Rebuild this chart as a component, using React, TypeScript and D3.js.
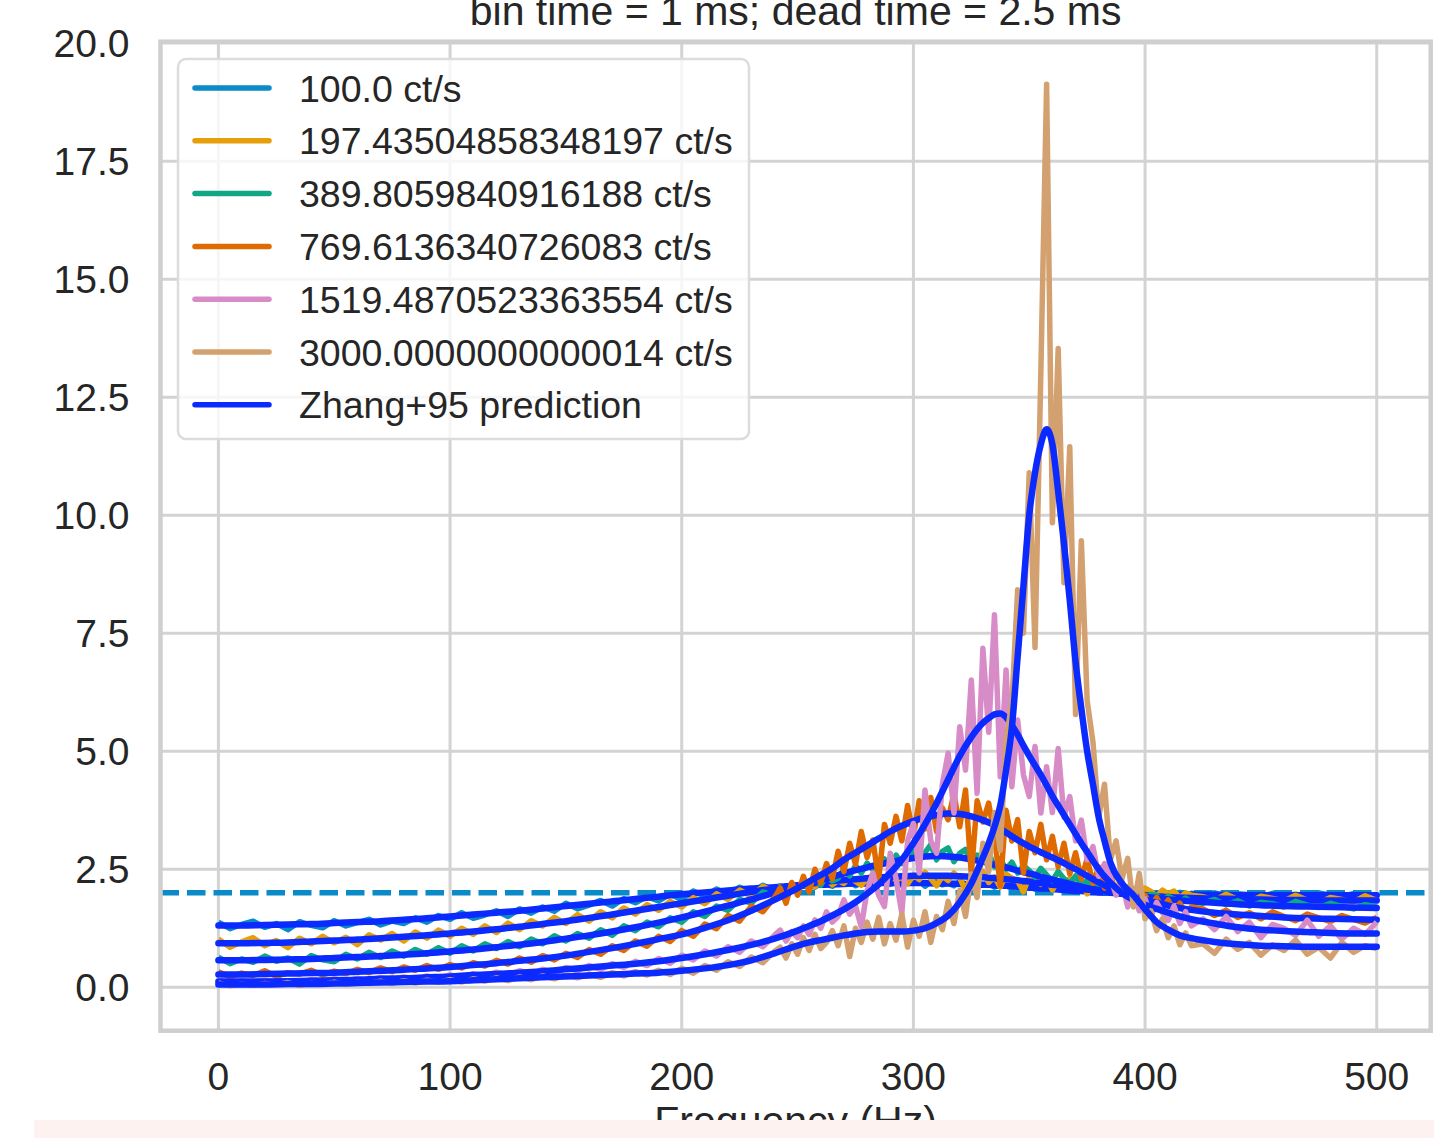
import React from 'react';
import * as d3 from 'd3';

const W = 1434;
const H = 1138;

const titleText = 'bin time = 1 ms; dead time = 2.5 ms';
const xLabelText = 'Frequency (Hz)';
const xTicks = [0, 100, 200, 300, 400, 500];
const yTicks = [0, 2.5, 5, 7.5, 10, 12.5, 15, 17.5, 20];

const seriesLabels = [
  '100.0 ct/s',
  '197.43504858348197 ct/s',
  '389.8059840916188 ct/s',
  '769.6136340726083 ct/s',
  '1519.4870523363554 ct/s',
  '3000.0000000000014 ct/s',
];
const modelLabel = 'Zhang+95 prediction';
const seriesColors = ['#0a8ac6', '#e69f0a', '#10a884', '#df6a00', '#d78bc7', '#d3a070'];
const modelColor = '#0a2aff';
const refLevel = 2.0;

// frequency grid of the measured spectra (Hz)
const dataFreq = [
  ...d3.range(0, 241, 5),
  ...d3.range(242.5, 420.1, 2.5),
  ...d3.range(425, 500.1, 5),
];
// frequency grid of the model curves (Hz)
const modelFreq = [
  ...d3.range(0, 251, 10),
  ...d3.range(255, 331, 5),
  ...d3.range(332.5, 385.1, 2.5),
  ...d3.range(390, 421, 5),
  ...d3.range(430, 501, 10),
];

const pds100 = [
  1.38, 1.24, 1.33, 1.40, 1.27, 1.35, 1.22, 1.39, 1.31, 1.26,
  1.41, 1.30, 1.37, 1.44, 1.32, 1.40, 1.35, 1.47, 1.38, 1.52,
  1.44, 1.58, 1.46, 1.53, 1.62, 1.50, 1.66, 1.57, 1.70, 1.61,
  1.78, 1.66, 1.74, 1.84, 1.72, 1.88, 1.79, 1.92, 1.83, 1.97,
  1.86, 2.04, 1.93, 2.08, 1.97, 2.12, 2.01, 2.16, 2.06,
  2.15, 2.10, 2.19, 2.13, 2.20, 2.16, 2.12, 2.23, 2.18, 2.14,
  2.24, 2.19, 2.27, 2.15, 2.21, 2.26, 2.17, 2.23, 2.29, 2.18,
  2.22, 2.16, 2.27, 2.20, 2.25, 2.14, 2.23, 2.28, 2.17, 2.21,
  2.15, 2.24, 2.19, 2.13, 2.22, 2.17, 2.20, 2.12, 2.19, 2.15,
  2.10, 2.18, 2.13, 2.16, 2.08, 2.14, 2.11, 2.06, 2.15, 2.09,
  2.05, 2.12, 2.07, 2.02, 2.10, 2.04, 2.00, 2.08, 2.03, 1.98,
  2.06, 2.01, 1.97, 2.04, 1.99, 1.95, 2.02, 1.98, 1.94, 2.01,
  1.96, 1.99,
  1.95, 2.00, 1.93, 1.98, 1.96, 1.91, 1.99, 1.94, 1.97, 1.92,
  2.00, 1.95, 1.93, 1.98, 1.94, 1.96,
];
const pds197 = [
  1.02, 0.85, 0.96, 1.05, 0.88, 0.99, 0.84, 1.04, 0.92, 1.08,
  0.94, 1.06, 0.90, 1.11, 1.00, 1.14, 0.98, 1.17, 1.04, 1.21,
  1.08, 1.25, 1.12, 1.30, 1.16, 1.36, 1.22, 1.41, 1.30, 1.48,
  1.35, 1.54, 1.40, 1.60, 1.47, 1.68, 1.55, 1.75, 1.63, 1.82,
  1.70, 1.90, 1.77, 1.98, 1.86, 2.06, 1.93, 2.14, 2.02,
  2.14, 2.06, 2.20, 2.11, 2.18, 2.25, 2.13, 2.22, 2.30, 2.17,
  2.26, 2.20, 2.33, 2.24, 2.16, 2.30, 2.38, 2.22, 2.29, 2.41,
  2.27, 2.33, 2.19, 2.37, 2.28, 2.44, 2.30, 2.15, 2.36, 2.26,
  2.42, 2.32, 2.05, 2.38, 2.29, 2.45, 2.22, 2.34, 2.12, 2.40,
  2.31, 2.25, 2.02, 2.35, 2.27, 2.18, 2.33, 2.06, 2.26, 2.20,
  2.30, 2.13, 2.24, 1.98, 2.20, 2.11, 2.25, 2.07, 2.16, 2.02,
  2.13, 2.08, 1.96, 2.10, 2.03, 1.93, 2.06, 1.98, 2.04, 1.90,
  2.00, 1.95,
  1.92, 1.84, 1.97, 1.86, 1.80, 1.93, 1.88, 1.83, 1.95, 1.85,
  1.79, 1.90, 1.86, 1.81, 1.94, 1.84,
];
const pds390 = [
  0.64, 0.50, 0.60, 0.53, 0.66, 0.55, 0.62, 0.49, 0.67, 0.58,
  0.54, 0.70, 0.60, 0.74, 0.63, 0.77, 0.66, 0.80, 0.70, 0.84,
  0.72, 0.88, 0.77, 0.92, 0.82, 0.97, 0.86, 1.02, 0.92, 1.09,
  0.98, 1.14, 1.04, 1.22, 1.10, 1.30, 1.20, 1.38, 1.28, 1.47,
  1.38, 1.60, 1.50, 1.72, 1.63, 1.86, 1.78, 2.02, 1.94,
  2.10, 1.96, 2.18, 2.05, 2.24, 2.12, 2.30, 2.16, 2.38, 2.25,
  2.31, 2.50, 2.36, 2.58, 2.42, 2.63, 2.49, 2.56, 2.72, 2.55,
  2.80, 2.62, 2.76, 2.90, 2.68, 2.85, 3.02, 2.70, 2.88, 2.95,
  2.66, 2.84, 2.92, 2.62, 2.80, 2.68, 2.86, 2.55, 2.72, 2.50,
  2.65, 2.42, 2.58, 2.47, 2.33, 2.52, 2.38, 2.26, 2.45, 2.30,
  2.20, 2.36, 2.12, 2.27, 2.08, 2.18, 2.02, 2.14, 2.06, 1.98,
  2.04, 1.92, 2.01, 1.88, 1.97, 1.95, 1.84, 1.93, 1.87, 1.80,
  1.89, 1.81,
  1.78, 1.86, 1.75, 1.83, 1.72, 1.80, 1.77, 1.70, 1.82, 1.74,
  1.69, 1.78, 1.71, 1.66, 1.75, 1.70,
];
const pds770 = [
  0.33, 0.22, 0.30, 0.25, 0.35, 0.23, 0.31, 0.28, 0.36, 0.26,
  0.34, 0.29, 0.38, 0.31, 0.41, 0.33, 0.43, 0.36, 0.46, 0.38,
  0.48, 0.41, 0.52, 0.45, 0.57, 0.49, 0.62, 0.53, 0.67, 0.58,
  0.72, 0.63, 0.80, 0.70, 0.88, 0.78, 0.98, 0.87, 1.08, 0.97,
  1.20, 1.08, 1.34, 1.24, 1.52, 1.40, 1.72, 1.60, 1.90,
  2.10, 1.78, 2.22, 1.95, 2.35, 2.02, 2.50, 2.21, 2.62, 2.30,
  2.88, 2.45, 3.05, 2.60, 3.30, 2.75, 3.12, 2.28, 3.45, 3.05,
  3.62, 3.10, 3.85, 3.20, 3.95, 3.35, 4.02, 3.30, 3.80, 3.55,
  4.10, 3.40, 4.18, 2.40, 3.95, 3.50, 3.90, 3.20, 2.15, 3.75,
  3.10, 3.55, 2.42, 3.30, 2.85, 3.45, 2.70, 3.20, 2.55, 3.05,
  2.40, 2.85, 2.30, 2.72, 2.20, 2.55, 2.10, 2.40, 1.98, 2.20,
  1.90, 2.08, 1.80, 1.95, 1.72, 1.90, 1.68, 1.85, 1.62, 1.78,
  1.58, 1.70,
  1.66, 1.52, 1.63, 1.48, 1.58, 1.45, 1.60, 1.50, 1.41, 1.55,
  1.47, 1.39, 1.52, 1.44, 1.36, 1.48,
];
const pds1519 = [
  0.15, 0.09, 0.14, 0.10, 0.16, 0.11, 0.14, 0.09, 0.17, 0.12,
  0.18, 0.13, 0.19, 0.14, 0.21, 0.16, 0.22, 0.17, 0.24, 0.19,
  0.26, 0.21, 0.29, 0.23, 0.32, 0.26, 0.35, 0.28, 0.38, 0.31,
  0.42, 0.35, 0.46, 0.38, 0.50, 0.42, 0.55, 0.46, 0.61, 0.51,
  0.68, 0.58, 0.77, 0.66, 0.86, 0.74, 0.98, 0.86, 1.10,
  1.21, 0.98, 1.18, 1.05, 1.30, 1.12, 1.43, 1.25, 1.60, 1.38,
  1.50, 1.85, 1.55, 1.72, 1.28, 2.05, 2.42, 1.95, 1.71, 2.84,
  2.30, 1.57, 3.10, 3.47, 2.42, 4.18, 3.10, 2.84, 4.30, 4.96,
  3.69, 5.52, 4.60, 6.51, 4.11, 7.18, 5.40, 7.89, 4.46, 6.72,
  4.25, 5.66, 4.50, 4.04, 5.10, 3.69, 4.67, 3.70, 5.06, 3.60,
  4.04, 3.10, 3.54, 2.70, 2.98, 2.35, 2.62, 2.34, 1.95, 2.25,
  1.70, 1.98, 1.62, 1.88, 1.50, 1.80, 1.58, 1.42, 1.72, 1.35,
  1.60, 1.30,
  1.45, 1.22, 1.50, 1.18, 1.38, 1.05, 1.33, 1.25, 1.10, 1.42,
  1.08, 1.30, 1.02, 1.25, 1.12, 1.38,
];
const pds3000 = [
  0.09, 0.03, 0.07, 0.04, 0.08, 0.05, 0.10, 0.04, 0.08, 0.06,
  0.11, 0.06, 0.10, 0.08, 0.13, 0.08, 0.14, 0.09, 0.15, 0.11,
  0.16, 0.11, 0.18, 0.13, 0.20, 0.14, 0.22, 0.16, 0.24, 0.18,
  0.26, 0.20, 0.28, 0.21, 0.31, 0.24, 0.33, 0.26, 0.36, 0.27,
  0.40, 0.30, 0.46, 0.36, 0.54, 0.44, 0.64, 0.52, 0.76,
  0.85, 0.62, 0.92, 0.70, 1.05, 0.78, 1.12, 0.82, 0.95, 1.20,
  0.88, 1.30, 0.65, 1.25, 0.95, 1.38, 1.02, 1.48, 0.92, 1.35,
  1.00, 1.55, 0.85, 1.42, 1.08, 1.60, 0.95, 1.50, 1.22, 1.82,
  1.35, 2.05, 1.50, 2.40, 1.90, 3.05, 2.45, 3.70, 2.90, 5.24,
  6.02, 8.42, 7.50, 10.90, 7.20, 13.00, 19.13, 9.84, 13.53, 8.57,
  11.45, 5.78, 9.46, 6.07, 5.20, 3.60, 4.30, 2.70, 3.10, 2.30,
  2.73, 1.70, 2.41, 1.45, 1.62, 1.20, 1.45, 1.05, 1.30, 0.90,
  1.15, 0.88,
  0.92, 0.72, 1.02, 0.80, 0.95, 0.68, 0.90, 0.78, 1.00, 0.70,
  0.85, 0.62, 0.95, 0.74, 0.88, 0.82,
];

const model100 = [
  1.31, 1.31, 1.32, 1.33, 1.34, 1.36, 1.38, 1.40, 1.43, 1.46, 1.50, 1.54, 1.58,
  1.62, 1.67, 1.72, 1.77, 1.82, 1.87, 1.92, 1.97, 2.01, 2.05, 2.09, 2.12, 2.15,
  2.16, 2.17, 2.18, 2.19, 2.20, 2.20, 2.21, 2.21, 2.21, 2.21, 2.21, 2.20, 2.20, 2.19, 2.18, 2.17,
  2.17, 2.16, 2.15, 2.15, 2.14, 2.13, 2.12, 2.11, 2.10, 2.09, 2.09, 2.08, 2.07, 2.06, 2.05, 2.04, 2.04, 2.03, 2.02, 2.01, 2.01, 2.00,
  1.99, 1.98, 1.98, 1.97, 1.97, 1.96, 1.96,
  1.96, 1.95, 1.95, 1.95, 1.95, 1.95, 1.95, 1.95,
];
const model197 = [
  0.93, 0.93, 0.94, 0.95, 0.97, 0.99, 1.01, 1.04, 1.07, 1.10, 1.14, 1.18, 1.23,
  1.28, 1.34, 1.40, 1.47, 1.54, 1.62, 1.70, 1.78, 1.86, 1.94, 2.02, 2.09, 2.16,
  2.19, 2.22, 2.25, 2.27, 2.29, 2.31, 2.33, 2.34, 2.35, 2.36, 2.36, 2.36, 2.36, 2.35, 2.34, 2.33,
  2.32, 2.31, 2.30, 2.29, 2.28, 2.27, 2.25, 2.24, 2.22, 2.21, 2.19, 2.17, 2.16, 2.14, 2.12, 2.11, 2.09, 2.07, 2.06, 2.04, 2.03, 2.01,
  1.99, 1.97, 1.95, 1.93, 1.91, 1.90, 1.89,
  1.88, 1.87, 1.86, 1.85, 1.85, 1.84, 1.84, 1.84,
];
const model390 = [
  0.57, 0.57, 0.58, 0.59, 0.60, 0.62, 0.64, 0.66, 0.69, 0.72, 0.76, 0.80, 0.85,
  0.90, 0.96, 1.03, 1.10, 1.18, 1.27, 1.37, 1.48, 1.60, 1.73, 1.86, 2.00, 2.13,
  2.20, 2.27, 2.34, 2.41, 2.48, 2.54, 2.60, 2.65, 2.70, 2.74, 2.77, 2.78, 2.77, 2.75, 2.71, 2.66,
  2.63, 2.60, 2.57, 2.54, 2.51, 2.47, 2.44, 2.41, 2.38, 2.34, 2.31, 2.28, 2.25, 2.22, 2.19, 2.16, 2.13, 2.10, 2.08, 2.06, 2.04, 2.02,
  1.98, 1.95, 1.92, 1.89, 1.86, 1.84, 1.82,
  1.79, 1.76, 1.74, 1.72, 1.71, 1.70, 1.69, 1.68,
];
const model770 = [
  0.27, 0.27, 0.28, 0.29, 0.30, 0.31, 0.33, 0.35, 0.37, 0.40, 0.43, 0.47, 0.51,
  0.56, 0.61, 0.67, 0.75, 0.83, 0.92, 1.02, 1.12, 1.26, 1.42, 1.62, 1.85, 2.10,
  2.24, 2.38, 2.52, 2.70, 2.85, 3.00, 3.15, 3.30, 3.42, 3.52, 3.60, 3.65, 3.68, 3.67, 3.62, 3.54,
  3.49, 3.43, 3.36, 3.28, 3.20, 3.12, 3.05, 2.98, 2.92, 2.86, 2.80, 2.75, 2.69, 2.63, 2.56, 2.50, 2.43, 2.36, 2.29, 2.22, 2.16, 2.10,
  2.00, 1.92, 1.85, 1.79, 1.73, 1.68, 1.64,
  1.58, 1.54, 1.51, 1.48, 1.46, 1.45, 1.44, 1.43,
];
const model1519 = [
  0.12, 0.12, 0.12, 0.13, 0.14, 0.15, 0.16, 0.18, 0.19, 0.21, 0.23, 0.26, 0.28,
  0.31, 0.34, 0.38, 0.42, 0.46, 0.50, 0.55, 0.62, 0.70, 0.79, 0.90, 1.03, 1.20,
  1.30, 1.40, 1.52, 1.65, 1.80, 1.98, 2.18, 2.42, 2.70, 3.05, 3.45, 3.90, 4.40, 4.90, 5.30, 5.60,
  5.70, 5.78, 5.80, 5.72, 5.55, 5.35, 5.12, 4.90, 4.70, 4.50, 4.28, 4.05, 3.85, 3.65, 3.45, 3.25, 3.05, 2.87, 2.68, 2.50, 2.35, 2.22,
  2.00, 1.85, 1.75, 1.66, 1.58, 1.50, 1.44,
  1.35, 1.27, 1.22, 1.19, 1.17, 1.15, 1.14, 1.14,
];
const model3000 = [
  0.06, 0.06, 0.06, 0.07, 0.07, 0.08, 0.09, 0.10, 0.11, 0.12, 0.13, 0.15, 0.17,
  0.19, 0.21, 0.23, 0.25, 0.27, 0.29, 0.31, 0.35, 0.40, 0.47, 0.57, 0.72, 0.88,
  0.95, 1.00, 1.05, 1.10, 1.14, 1.17, 1.18, 1.18, 1.18, 1.20, 1.25, 1.36, 1.52, 1.80, 2.20, 2.75,
  3.05, 3.40, 3.85, 4.60, 5.50, 7.00, 8.50, 10.00, 10.90, 11.50, 11.82, 11.50, 10.50, 9.40, 8.20, 6.90, 5.90, 5.00, 4.30, 3.60, 3.10, 2.65,
  2.20, 1.95, 1.65, 1.38, 1.22, 1.10, 1.04,
  0.96, 0.91, 0.88, 0.87, 0.86, 0.86, 0.86, 0.86,
];

const dataSeries = [pds100, pds197, pds390, pds770, pds1519, pds3000];
const modelSeries = [model100, model197, model390, model770, model1519, model3000];

const FONT = "'Liberation Sans', Arial, Helvetica, sans-serif";
const TEXT = '#262626';

export default function App() {
  const plot = { left: 160.5, right: 1430.7, top: 41.7, bottom: 1030.7 };
  const x = d3.scaleLinear().domain([-25, 523.3]).range([plot.left, plot.right]);
  const y = d3.scaleLinear().domain([-0.92, 20.03]).range([plot.bottom, plot.top]);

  const dataLine = d3
    .line<number>()
    .x((_, i) => x(dataFreq[i]))
    .y((d) => y(d))
    .curve(d3.curveLinear);
  const modelLine = d3
    .line<number>()
    .x((_, i) => x(modelFreq[i]))
    .y((d) => y(d))
    .curve(d3.curveMonotoneX);

  const legend = { x: 178, y: 59, w: 571, h: 380, rowY0: 88, rowStep: 52.8 };
  const legendItems = [
    ...seriesLabels.map((l, i) => ({ label: l, color: seriesColors[i] })),
    { label: modelLabel, color: modelColor },
  ];

  return (
    <svg
      width={W}
      height={H}
      style={{ position: 'absolute', left: 0, top: 0, display: 'block' }}
      fontFamily={FONT}
    >
      <rect x={0} y={0} width={W} height={H} fill="#ffffff" />
      <defs>
        <clipPath id="plotClip">
          <rect x={plot.left} y={plot.top} width={plot.right - plot.left} height={plot.bottom - plot.top} />
        </clipPath>
      </defs>

      {/* grid */}
      <g stroke="#d3d3d3" strokeWidth={3}>
        {xTicks.map((t) => (
          <line key={'gx' + t} x1={x(t)} x2={x(t)} y1={plot.top} y2={plot.bottom} />
        ))}
        {yTicks.map((t) => (
          <line key={'gy' + t} x1={plot.left} x2={plot.right} y1={y(t)} y2={y(t)} />
        ))}
      </g>

      <g clipPath="url(#plotClip)">
        <line
          x1={plot.left}
          x2={plot.right}
          y1={y(refLevel)}
          y2={y(refLevel)}
          stroke={seriesColors[0]}
          strokeWidth={5.5}
          strokeDasharray="18.5 8"
        />
        {dataSeries.map((vals, i) => (
          <g key={'s' + i}>
            <path
              d={dataLine(vals) || ''}
              fill="none"
              stroke={seriesColors[i]}
              strokeWidth={5.5}
              strokeLinejoin="round"
            />
            <path
              d={modelLine(modelSeries[i]) || ''}
              fill="none"
              stroke={modelColor}
              strokeWidth={6.5}
              strokeLinejoin="round"
              strokeLinecap="round"
            />
          </g>
        ))}
      </g>

      {/* spines */}
      <rect
        x={plot.left}
        y={plot.top}
        width={plot.right - plot.left}
        height={plot.bottom - plot.top}
        fill="none"
        stroke="#cfcfcf"
        strokeWidth={4.5}
      />

      {/* tick labels */}
      <g fill={TEXT} fontSize={39}>
        {xTicks.map((t) => (
          <text key={'tx' + t} x={x(t)} y={1090} textAnchor="middle">
            {String(t)}
          </text>
        ))}
        {yTicks.map((t) => (
          <text key={'ty' + t} x={129.5} y={y(t) + 14} textAnchor="end">
            {t.toFixed(1)}
          </text>
        ))}
      </g>

      {/* legend */}
      <g>
        <rect
          x={legend.x}
          y={legend.y}
          width={legend.w}
          height={legend.h}
          rx={8}
          ry={8}
          fill="#ffffff"
          fillOpacity={0.8}
          stroke="#dcdcdc"
          strokeWidth={2.5}
        />
        {legendItems.map((it, i) => {
          const ly = legend.rowY0 + i * legend.rowStep;
          return (
            <g key={'lg' + i}>
              <line x1={195} x2={269} y1={ly} y2={ly} stroke={it.color} strokeWidth={5.5} strokeLinecap="round" />
              <text x={299} y={ly + 13.5} fontSize={37.5} fill={TEXT}>
                {it.label}
              </text>
            </g>
          );
        })}
      </g>

      {/* title and axis label */}
      <text x={(plot.left + plot.right) / 2} y={25} textAnchor="middle" fontSize={41} fill={TEXT}>
        {titleText}
      </text>
      <text x={(plot.left + plot.right) / 2} y={1135} textAnchor="middle" fontSize={41} fill={TEXT}>
        {xLabelText}
      </text>

      {/* pale strip along the bottom edge */}
      <rect x={34} y={1120} width={W - 34} height={H - 1120} fill="#fdf2ef" />
    </svg>
  );
}
